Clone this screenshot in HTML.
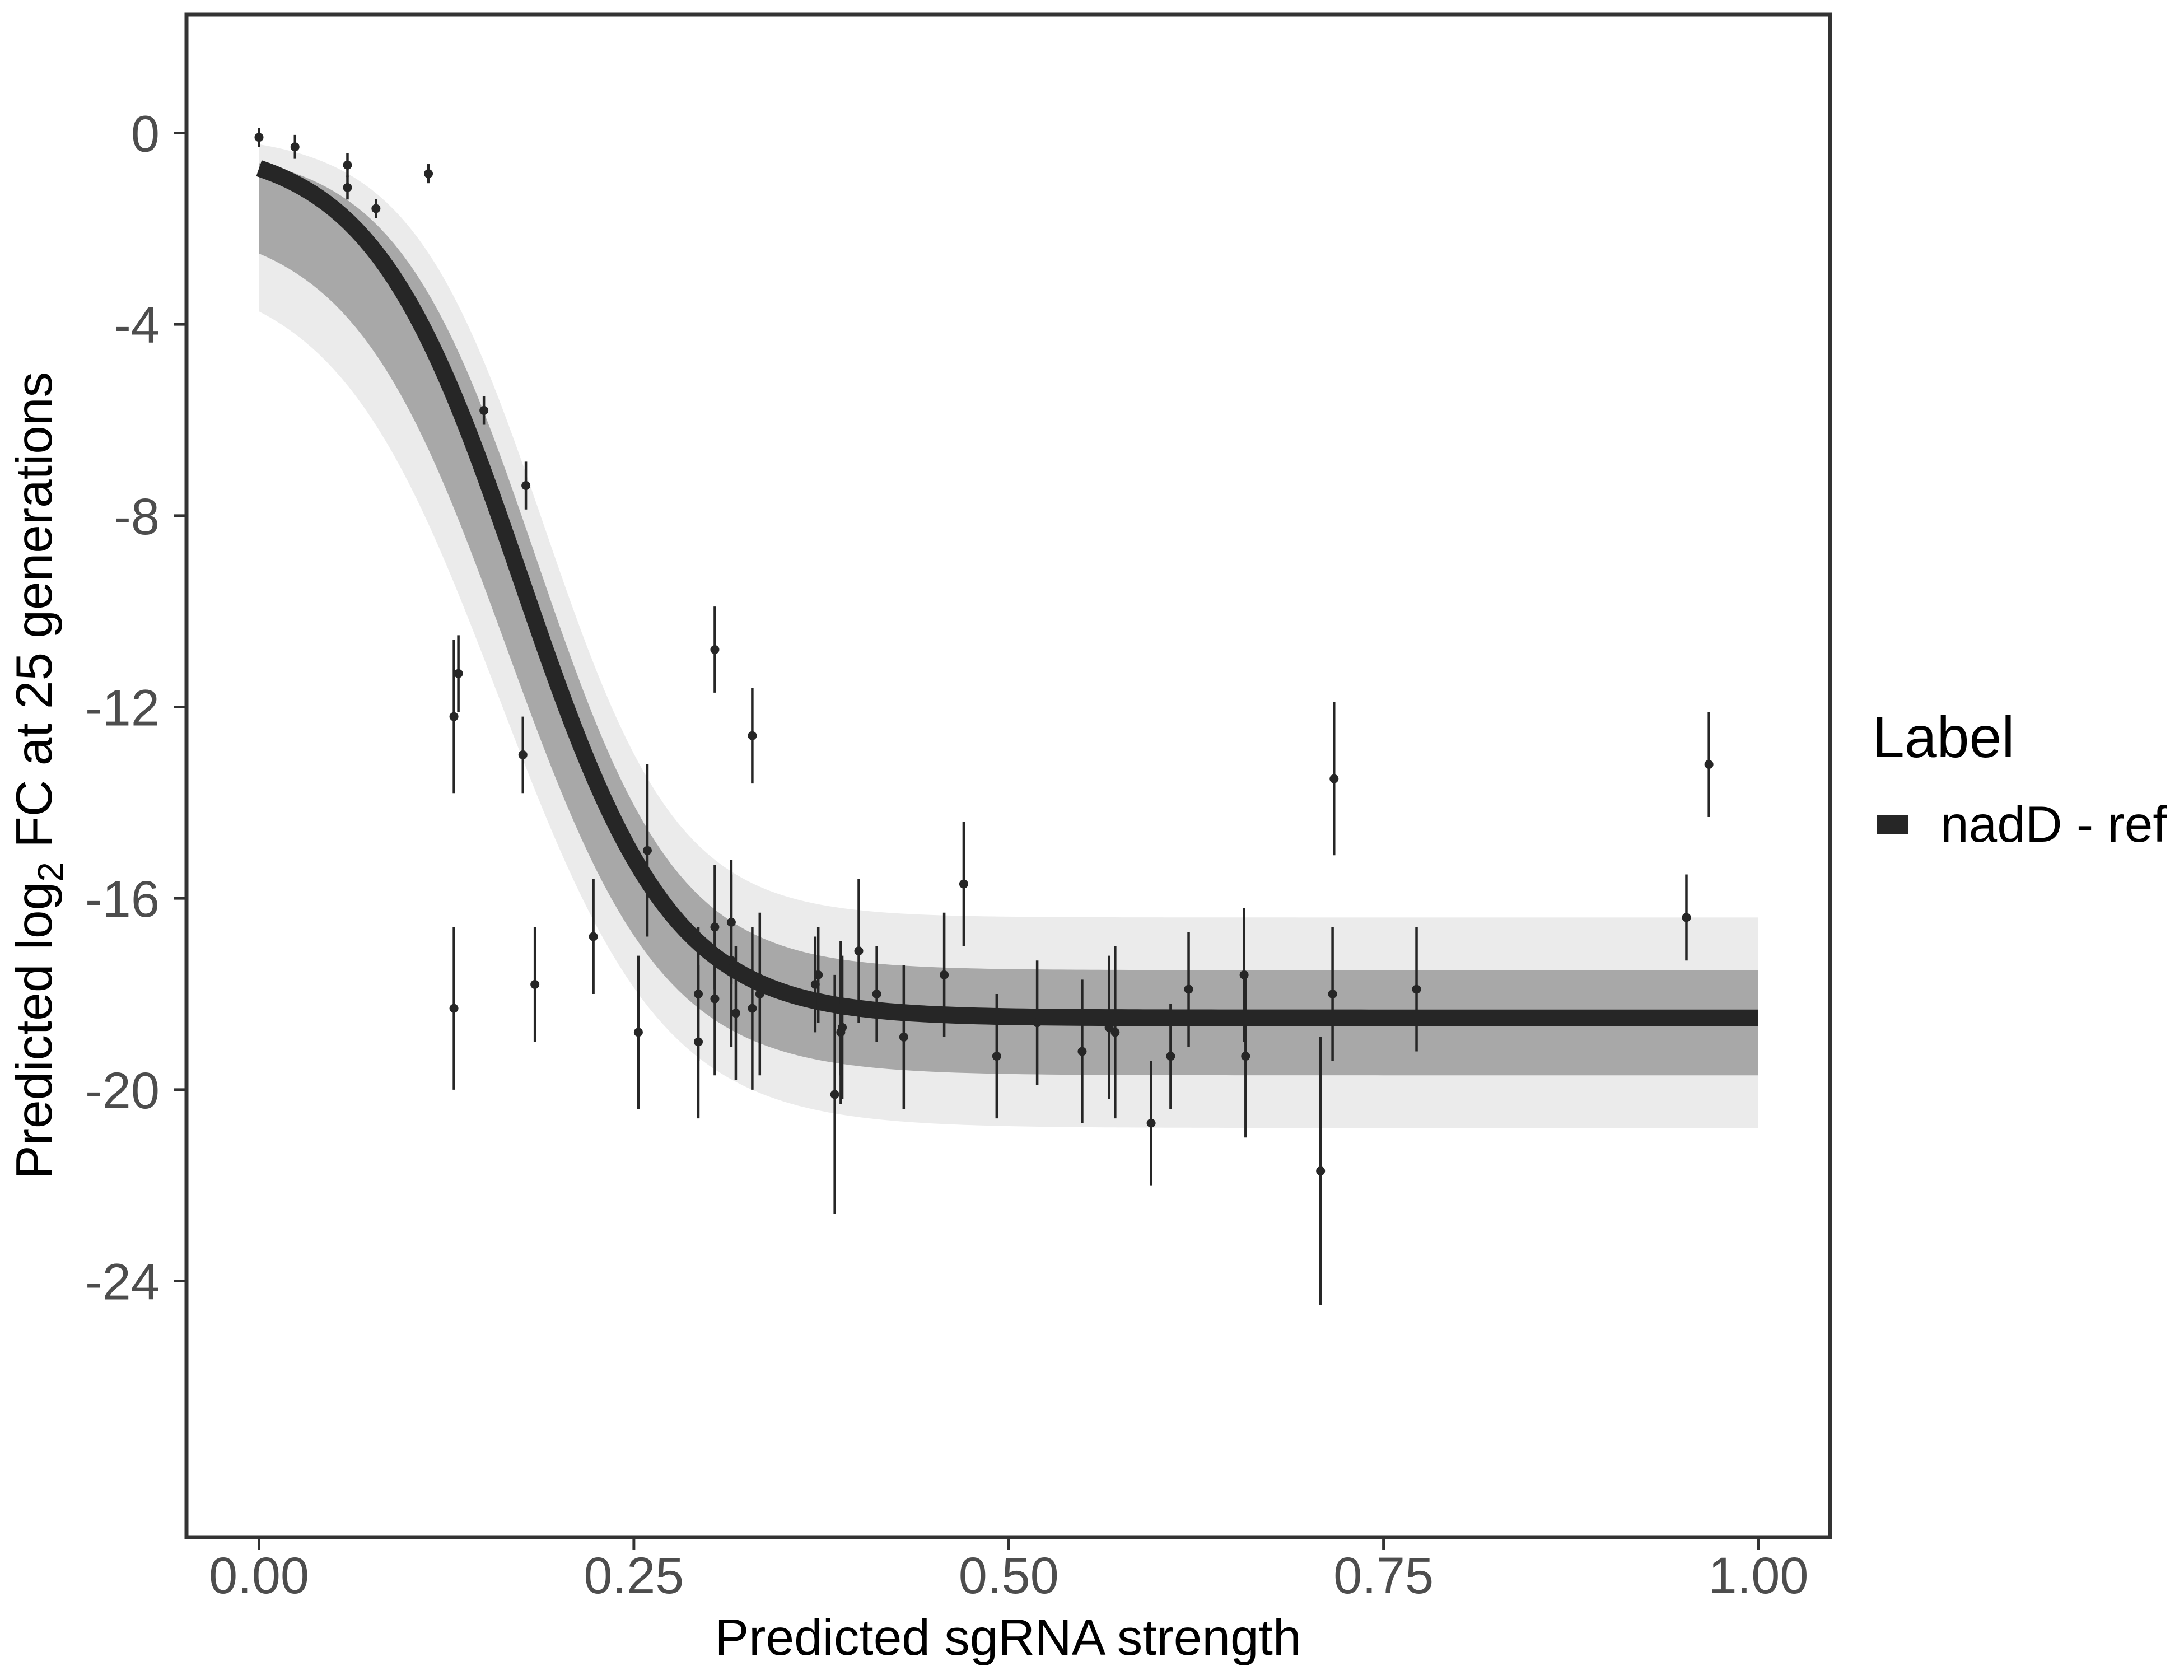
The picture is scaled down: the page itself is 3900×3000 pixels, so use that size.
<!DOCTYPE html>
<html><head><meta charset="utf-8"><style>
html,body{margin:0;padding:0;background:#fff;}
svg{display:block;font-family:"Liberation Sans",sans-serif;}
</style></head><body>
<svg id="chart" width="3900" height="3000" viewBox="0 0 3900 3000" xmlns="http://www.w3.org/2000/svg">
<rect x="0" y="0" width="3900" height="3000" fill="#fff"/>
<g id="plot"></g>
<rect x="333" y="26" width="2935" height="2719" fill="none" stroke="#333" stroke-width="7"/>
<g id="axes"></g>
<text x="1800" y="2955" font-size="91" text-anchor="middle" fill="#000">Predicted sgRNA strength</text>
<text transform="translate(92,1385) rotate(-90)" font-size="91" text-anchor="middle" fill="#000">Predicted  log<tspan font-size="64" dy="20">2</tspan><tspan dy="-20"> FC at 25 generations</tspan></text>
<g>
<text x="3343" y="1352" font-size="104" fill="#000">Label</text>
<rect x="3352" y="1455" width="56" height="34" fill="#262626"/>
<text x="3465" y="1503" font-size="91" fill="#000">nadD - ref</text>
</g>
</svg>
<script>
const xTicks = [0, 0.25, 0.5, 0.75, 1];
const xTickLabels = ["0.00", "0.25", "0.50", "0.75", "1.00"];
const yTicks = [0, -4, -8, -12, -16, -20, -24];
const yTickLabels = ["0", "-4", "-8", "-12", "-16", "-20", "-24"];
const pointX = [0,0.024,0.059,0.059,0.078,0.113,0.150,0.178,0.130,0.133,0.176,0.130,0.184,0.223,0.253,0.259,0.293,0.293,0.304,0.304,0.304,0.315,0.315,0.318,0.329,0.329,0.334,0.371,0.373,0.384,0.388,0.388,0.389,0.400,0.412,0.430,0.457,0.470,0.492,0.519,0.549,0.567,0.571,0.595,0.608,0.620,0.657,0.658,0.708,0.716,0.717,0.772,0.952,0.967];
const pointY = [-0.09,-0.29,-0.67,-1.14,-1.58,-0.85,-5.8,-7.37,-12.2,-11.3,-13.0,-18.3,-17.8,-16.8,-18.8,-15.0,-18.0,-19.0,-10.8,-18.1,-16.6,-17.3,-16.5,-18.4,-12.6,-18.3,-18.0,-17.8,-17.6,-20.1,-18.3,-18.8,-18.7,-17.1,-18.0,-18.9,-17.6,-15.7,-19.3,-18.6,-19.2,-18.7,-18.8,-20.7,-19.3,-17.9,-17.6,-19.3,-21.7,-18.0,-13.5,-17.9,-16.4,-13.2];
const pointErr = [0.2,0.25,0.25,0.25,0.2,0.2,0.3,0.5,1.6,0.8,0.8,1.7,1.2,1.2,1.6,1.8,1.4,1.6,0.9,1.6,1.3,1.8,1.3,1.4,1.0,1.7,1.7,1.0,1.0,2.5,1.4,1.5,1.5,1.5,1.0,1.5,1.3,1.3,1.3,1.3,1.5,1.5,1.8,1.3,1.1,1.2,1.4,1.7,2.8,1.4,1.6,1.3,0.9,1.1];
// fitted curve parameters [top, plateau, midpoint, scale]
const fitParams = [-0.2, -18.5, 0.175, 0.05];
const innerUpper = [-0.3, -17.5, 0.185, 0.047];
const innerLower = [-1.8, -19.7, 0.165, 0.052];
const outerUpper = [0.0, -16.4, 0.19, 0.045];
const outerLower = [-2.8, -20.8, 0.16, 0.055];

const X = v => 462.5 + v * (3140 - 462.5);
const Y = v => 237.5 - v * (2287.5 - 237.5) / 24;
const ns = "http://www.w3.org/2000/svg";
const plot = document.getElementById('plot');
const axes = document.getElementById('axes');
function mk(tag, attrs, parent) {
  const e = document.createElementNS(ns, tag);
  for (const k in attrs) e.setAttribute(k, attrs[k]);
  parent.appendChild(e);
  return e;
}
function f(p, x) { return p[0] + (p[1] - p[0]) / (1 + Math.exp(-(x - p[2]) / p[3])); }
const xs = [];
for (let i = 0; i <= 200; i++) xs.push(i / 200);
function band(pa, pb, fill, name) {
  const up = xs.map(x => [X(x), Y(Math.max(f(pa, x), f(pb, x)))]);
  const lo = xs.map(x => [X(x), Y(Math.min(f(pa, x), f(pb, x)))]).reverse();
  const el = mk('polygon', {points: up.concat(lo).map(p => p.join(',')).join(' '), fill: fill}, plot);
  
  
}
band(outerUpper, outerLower, '#ebebeb', 'posterior-band-outer');
band(innerUpper, innerLower, '#a8a8a8', 'posterior-band-inner');
const fit = mk('polyline', {points: xs.map(x => X(x) + ',' + Y(f(fitParams, x))).join(' '), fill: 'none', stroke: '#262626', 'stroke-width': 30}, plot);


pointX.forEach((x, i) => {
  const eb = mk('line', {x1: X(x), x2: X(x), y1: Y(pointY[i] + pointErr[i]), y2: Y(pointY[i] - pointErr[i]), stroke: '#262626', 'stroke-width': 4.5}, plot);
  
  
  const c = mk('circle', {cx: X(x), cy: Y(pointY[i]), r: 8, fill: '#262626'}, plot);
  
  
});
xTicks.forEach((v, i) => {
  const t = mk('line', {x1: X(v), x2: X(v), y1: 2748, y2: 2768, stroke: '#333', 'stroke-width': 5}, axes);
  
  
  const l = mk('text', {x: X(v), y: 2845, 'font-size': 92, 'text-anchor': 'middle', fill: '#4d4d4d'}, axes);
  l.textContent = xTickLabels[i];
  
  
});
yTicks.forEach((v, i) => {
  const t = mk('line', {x1: 310, x2: 330, y1: Y(v), y2: Y(v), stroke: '#333', 'stroke-width': 5}, axes);
  
  
  const l = mk('text', {x: 285, y: Y(v) + 33, 'font-size': 92, 'text-anchor': 'end', fill: '#4d4d4d'}, axes);
  l.textContent = yTickLabels[i];
  
  
});
</script>
</body></html>
